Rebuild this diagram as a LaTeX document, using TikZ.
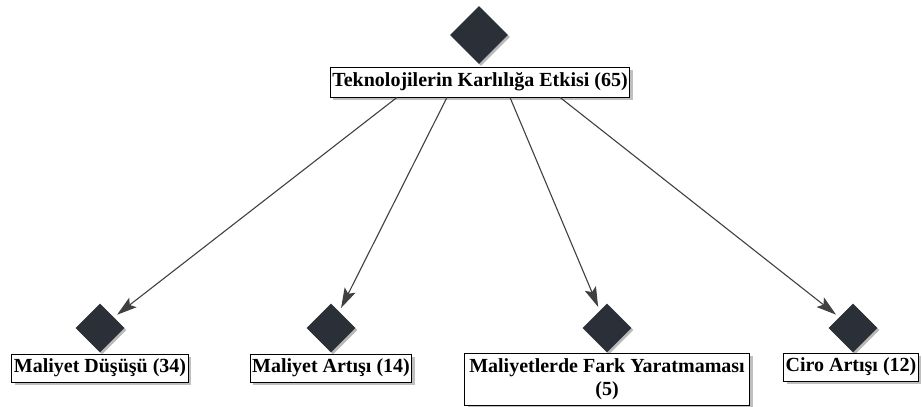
\documentclass[tikz,border=0pt]{standalone}
\usepackage{fontspec}
\setmainfont{Liberation Serif}
\usepackage{tikz}
\usetikzlibrary{arrows.meta,shapes,shadows,positioning}

\definecolor{dia}{HTML}{2B3038}
\definecolor{okrenk}{HTML}{404040}

\tikzset{
  kod/.style={diamond, fill=dia, inner sep=0pt, minimum width=49pt, minimum height=49pt,
    drop shadow={shadow xshift=2pt, shadow yshift=-2pt, fill=gray!55, opacity=1}},
  etiket/.style={draw=black, fill=white, line width=0.8pt, inner sep=2pt, minimum height=28pt,
    font=\bfseries\fontsize{20}{23}\selectfont,
    drop shadow={shadow xshift=3pt, shadow yshift=-3pt, fill=gray!50, opacity=1}},
  ok/.style={draw=okrenk, line width=1.1pt, >={Stealth[length=20pt,width=12pt,inset=4pt]}, ->, shorten >=4pt}
}

\begin{document}
\begin{tikzpicture}[x=1pt,y=-1pt]
  \useasboundingbox (0,0) rectangle (922,407);

  % Nodes
  \node[kod, minimum width=58pt, minimum height=58pt] (k0) at (479,35) {};
  \node[etiket, minimum height=30pt] (e0) at (480,82) {Teknolojilerin Karlılığa Etkisi (65)};

  \node[kod] (k1) at (100,328) {};
  \node[etiket] (e1) at (100,368) {Maliyet Düşüşü (34)};
  \node[kod] (k2) at (331,328) {};
  \node[etiket] (e2) at (331,368) {Maliyet Artışı (14)};
  \node[kod] (k3) at (607,328) {};
  \node[etiket, align=center, minimum width=285pt, minimum height=52pt] (e3) at (607,379) {Maliyetlerde Fark Yaratmaması\\(5)};
  \node[kod] (k4) at (853,328) {};
  \node[etiket] (e4) at (851,367) {Ciro Artışı (12)};

  % Edges
  \coordinate (c1) at ([xshift=-83pt]e0.south);
  \coordinate (c2) at ([xshift=-33pt]e0.south);
  \coordinate (c3) at ([xshift=30pt]e0.south);
  \coordinate (c4) at ([xshift=80pt]e0.south);
  \draw[ok] (c1) -- (k1);
  \draw[ok] (c2) -- (k2);
  \draw[ok] (c3) -- (k3);
  \draw[ok] (c4) -- (k4);
\end{tikzpicture}
\end{document}
